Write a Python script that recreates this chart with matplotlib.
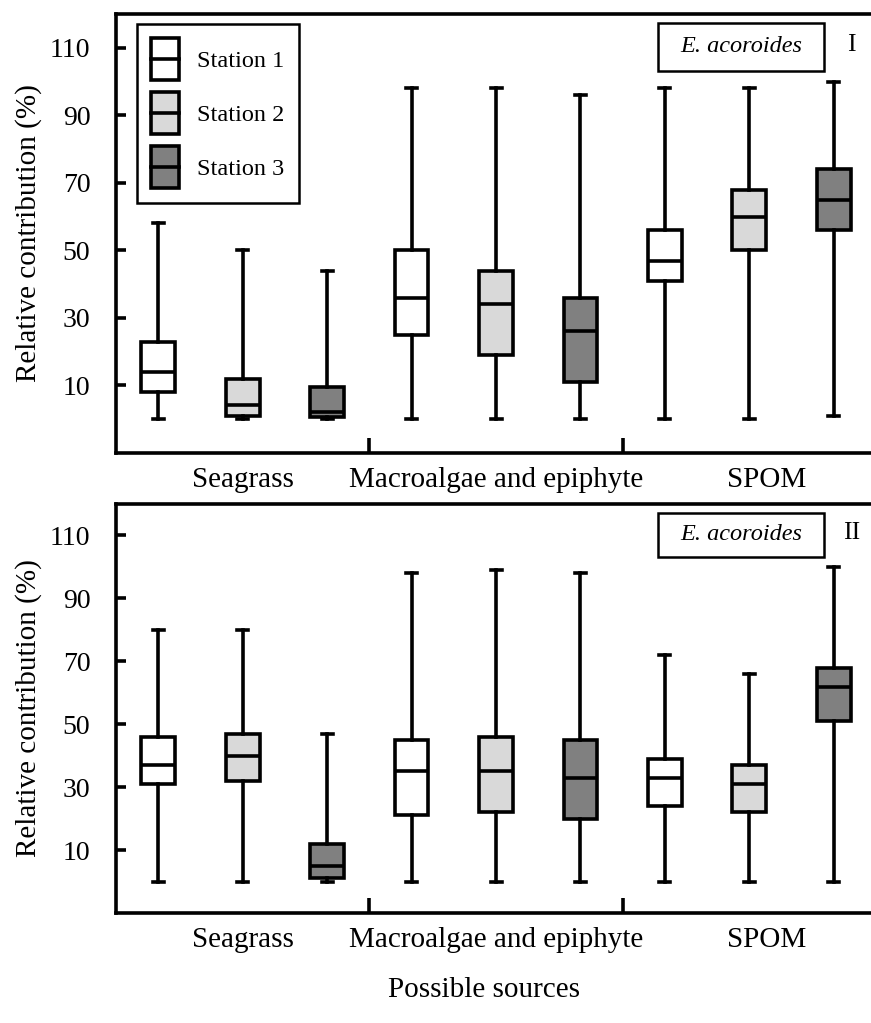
import numpy as np
import matplotlib.pyplot as plt
from matplotlib.patches import Rectangle, Patch
from matplotlib.lines import Line2D
from matplotlib.legend_handler import HandlerBase

plt.rcParams['font.family'] = ['Liberation Serif', 'DejaVu Serif']

# data (order: St1, St2, St3 for Seagrass, Macroalgae, SPOM)
sources = ['Seagrass', 'Macroalgae and epiphyte', 'SPOM']
source_pos = [2, 5, 8.2]
stations = ['Station 1', 'Station 2', 'Station 3']
colors = ['white', '#d9d9d9', '#808080']

p1_low = [0, 0, 0, 0, 0, 0, 0, 0, 1]
p1_q1 = [8, 1.1, 0.8, 25, 19, 11, 41, 50, 56]
p1_med = [14, 4.3, 2.1, 36, 34, 26, 47, 60, 65]
p1_q3 = [23, 12, 9.5, 50, 44, 36, 56, 68, 74]
p1_high = [58, 50, 44, 98, 98, 96, 98, 98, 100]

p2_low = [0, 0, 0, 0, 0, 0, 0, 0, 0]
p2_q1 = [31, 32, 1.2, 21, 22, 20, 24, 22, 51]
p2_med = [37, 40, 5, 35, 35, 33, 33, 31, 62]
p2_q3 = [46, 47, 12, 45, 46, 45, 39, 37, 68]
p2_high = [80, 80, 47, 98, 99, 98, 72, 66, 100]

LW = 2.6


class BoxHandler(HandlerBase):
    # legend key: small box with a median line through it
    def create_artists(self, legend, orig_handle, xdescent, ydescent,
                       width, height, fontsize, trans):
        r = Rectangle((-xdescent, -ydescent), width, height,
                      facecolor=orig_handle.get_facecolor(), edgecolor='k',
                      lw=LW, transform=trans)
        l = Line2D([-xdescent, -xdescent + width],
                   [-ydescent + height / 2] * 2, color='k', lw=LW,
                   transform=trans)
        return [r, l]


def panel(ax, low, q1, med, q3, high, tag, legend=False):
    stats = []
    for i in range(len(med)):
        stats.append({'whislo': low[i], 'q1': q1[i], 'med': med[i],
                      'q3': q3[i], 'whishi': high[i], 'fliers': []})
    pos = np.arange(1, len(med) + 1)
    bp = ax.bxp(stats, positions=pos, widths=0.40, capwidths=0.13,
                patch_artist=True, showfliers=False, manage_ticks=False,
                boxprops=dict(edgecolor='k', linewidth=LW),
                whiskerprops=dict(color='k', linewidth=LW),
                capprops=dict(color='k', linewidth=LW),
                medianprops=dict(color='k', linewidth=LW))
    for i, b in enumerate(bp['boxes']):
        b.set_facecolor(colors[i % 3])

    ax.set_xlim(0.5, 9.5)
    ax.set_ylim(-10, 120)
    ax.set_yticks([10, 30, 50, 70, 90, 110])
    ax.tick_params(axis='y', direction='in', length=7.5, width=LW,
                   labelsize=20, pad=18.5)
    ax.set_xticks([3.5, 6.5])
    ax.set_xticklabels([])
    ax.tick_params(axis='x', which='major', direction='in', length=11,
                   width=LW)
    ax.set_xticks(source_pos, minor=True)
    ax.set_xticklabels(sources, minor=True, fontsize=21)
    ax.tick_params(axis='x', which='minor', length=0, pad=10)
    for s in ax.spines.values():
        s.set_linewidth(LW)

    ax.set_ylabel('Relative contribution (%)', fontsize=21)
    ax.yaxis.set_label_coords(-0.097, 0.5)

    ax.add_patch(Rectangle((0.713, 0.871), 0.219, 0.108,
                           transform=ax.transAxes, facecolor='white',
                           edgecolor='k', lw=1.8))
    ax.text(0.8225, 0.925, 'E. acoroides', style='italic', fontsize=17.5,
            ha='center', va='center', transform=ax.transAxes)
    ax.text(0.968, 0.93, tag, fontsize=18.5, ha='center', va='center',
            transform=ax.transAxes)

    if legend:
        handles = [Patch(facecolor=c, edgecolor='k') for c in colors]
        leg = ax.legend(handles, stations, loc='upper left',
                        bbox_to_anchor=(0.0276, 0.977), borderaxespad=0,
                        fontsize=17.5, handler_map={Patch: BoxHandler()},
                        handlelength=1.15, handleheight=2.28,
                        handletextpad=0.75, labelspacing=0.5,
                        borderpad=0.58, fancybox=False, framealpha=1,
                        edgecolor='k')
        leg.get_frame().set_linewidth(1.8)


fig = plt.figure(figsize=(8.71, 10.23), dpi=100)
ax1 = fig.add_axes([0.1332, 0.5572, 0.8726, 0.4291])
ax2 = fig.add_axes([0.1332, 0.1075, 0.8726, 0.3998])

panel(ax1, p1_low, p1_q1, p1_med, p1_q3, p1_high, 'I', legend=True)
panel(ax2, p2_low, p2_q1, p2_med, p2_q3, p2_high, 'II')

fig.text(0.5557, 0.032, 'Possible sources', fontsize=21, ha='center',
         va='center')

fig.savefig('out.png', dpi=100)
